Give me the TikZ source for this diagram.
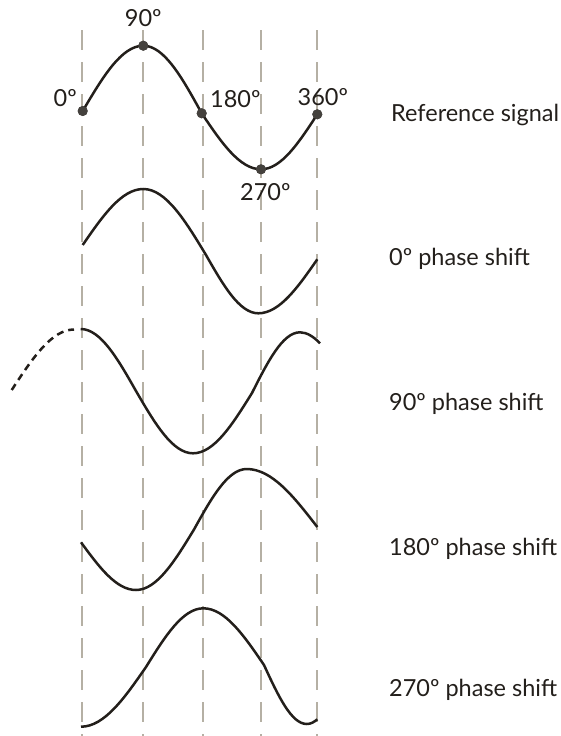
\documentclass[tikz,border=0pt]{standalone}
\usepackage{fontspec}
\setmainfont{Lato}
\usepackage{tikz}
\usetikzlibrary{positioning}
\definecolor{ink}{HTML}{231F1B}
\definecolor{gridgray}{HTML}{B5B0A4}

\begin{document}
\begin{tikzpicture}[x=1pt,y=-1pt,
 wave/.style={ink,line width=2.5pt},
 gridline/.style={gridgray,line width=1.4pt,dash pattern=on 20pt off 12pt},
 dot/.style={circle,fill=ink!85,inner sep=0pt,minimum size=10pt},
 lbl/.style={text=ink,font=\fontsize{23.5}{28}\selectfont,inner sep=0pt}]
\useasboundingbox (0,0) rectangle (561,736);
\foreach \x in {82,143,203,261,317}\draw[gridline](\x,30)--(\x,736);
% reference signal
\node[dot](d0)at(82.7,111){};
\node[dot](d90)at(143.3,45.7){};
\node[dot](d180)at(201.7,113.3){};
\node[dot](d270)at(261,169.3){};
\node[dot](d360)at(317.3,114.3){};
\draw[wave](d0.center)sin(d90.center)cos(d180.center)sin(d270.center)cos(d360.center);
\foreach \n in {d0,d90,d180,d270,d360}\node[dot]at(\n){};
\node[lbl,above=14pt of d90](l90){90º};
\node[lbl,anchor=base east](l0)at(77,106.7){0º};
\node[lbl,anchor=base west](l180)at(210,107.5){180º};
\node[lbl,anchor=base west](l360)at(297.5,105){360º};
\node[lbl,anchor=base west](l270)at(240,200){270º};
% 0 shift
\draw[wave](82.7,245)sin(143.3,189)cos(206,255)sin(258.3,313.3)cos(317.3,259.3);
% 90 shift
\draw[wave,dash pattern=on 7pt off 5pt](11.7,390)sin(74,329.5);
\draw[wave](80.7,329)cos(136,391)sin(193,453.3)cos(252,393)sin(300,332.3)
 ..controls(307,332.3)and(314,337)..(320,343.3);
% 180 shift
\draw[wave](81,542.3)sin(136,590)cos(194,529.5)sin(246.7,469)cos(317.3,527);
% 270 shift
\draw[wave](81,726.7)cos(146,667)sin(203.3,608.3)cos(264,665)sin(306.7,724)
 ..controls(311,724)and(314,722)..(317.3,719.3);
\node[lbl,anchor=base west](ref)at(391,121.7){Reference signal};
\node[lbl,anchor=base west](s0)at(389,265){0º phase shift};
\node[lbl,anchor=base west](s90)at(389,410){90º phase shift};
\node[lbl,anchor=base west](s180)at(389,555){180º phase shift};
\node[lbl,anchor=base west](s270)at(389,696.7){270º phase shift};
\end{tikzpicture}
\end{document}
